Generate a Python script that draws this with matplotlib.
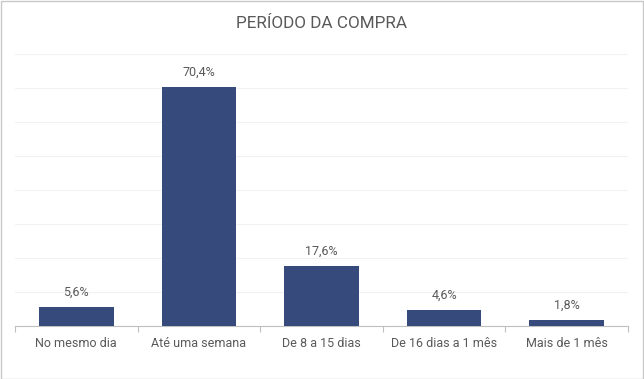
import matplotlib.pyplot as plt
from matplotlib.patches import Rectangle

categories = ["No mesmo dia", "Até uma semana", "De 8 a 15 dias", "De 16 dias a 1 mês", "Mais de 1 mês"]
values = [5.6, 70.4, 17.6, 4.6, 1.8]
value_labels = ["5,6%", "70,4%", "17,6%", "4,6%", "1,8%"]

plt.rcParams["font.family"] = ["Roboto", "DejaVu Sans"]
text_color = "#595959"
bar_color = "#364b7c"

fig = plt.figure(figsize=(6.44, 3.79), dpi=100)
ax = fig.add_axes([15 / 644, 1 - 326 / 379, 613 / 644, 272 / 379])

x = list(range(len(categories)))
ax.bar(x, values, width=0.61, color=bar_color, zorder=3)
for xi, v, lab in zip(x, values, value_labels):
    ax.annotate(lab, (xi, v), xytext=(0, 6), textcoords="offset points",
                ha="center", va="bottom", fontsize=9, color=text_color)

ax.set_xlim(-0.5, len(categories) - 0.5)
ax.set_ylim(0, 80)
ax.set_yticks(range(0, 81, 10))
ax.yaxis.grid(True, color="#f2f2f2", lw=0.8, zorder=0)
ax.tick_params(axis="y", left=False, labelleft=False)
ax.set_xticks(x)
ax.set_xticklabels(categories, fontsize=9, color=text_color)
ax.set_xticks([i + 0.5 for i in range(-1, len(categories))], minor=True)
ax.tick_params(axis="x", which="major", length=0, pad=8)
ax.tick_params(axis="x", which="minor", length=4, color="#bfbfbf", width=0.8)
for s in ["top", "right", "left"]:
    ax.spines[s].set_visible(False)
ax.spines["bottom"].set_color("#bfbfbf")
ax.spines["bottom"].set_linewidth(0.8)

fig.text(0.5, 1 - 24 / 379, "PERÍODO DA COMPRA", ha="center", va="center",
         fontsize=12.3, color=text_color)
fig.patches.append(Rectangle((0.001, 0.001), 0.997, 0.996, transform=fig.transFigure,
                             fill=False, edgecolor="#c8c8c8", lw=1))

fig.savefig("out.png", dpi=100)
